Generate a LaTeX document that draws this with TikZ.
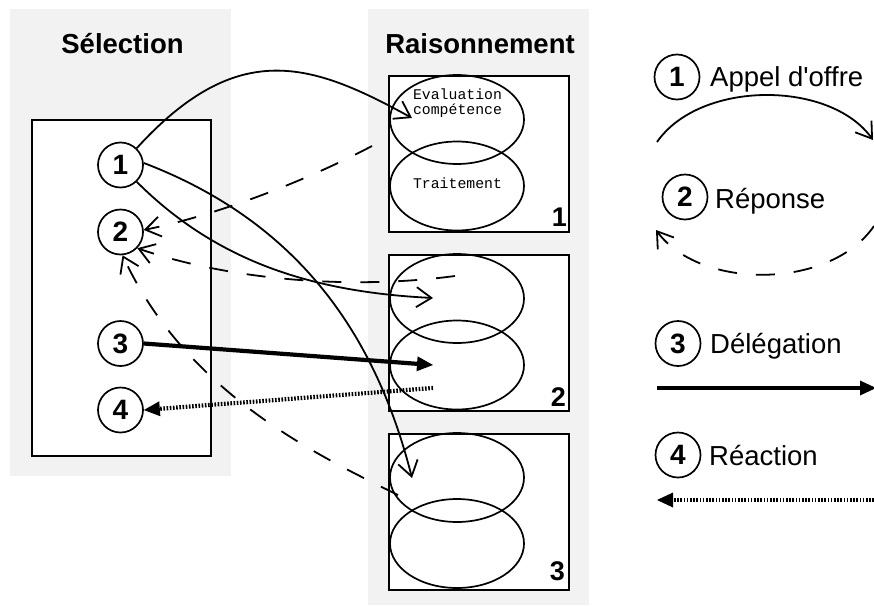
\documentclass[tikz,border=0pt]{standalone}
\usepackage{fontspec}
\setmainfont{Liberation Sans}
\newfontfamily\monofont{Liberation Mono}
\usetikzlibrary{arrows.meta,shapes.geometric}
\definecolor{panelgray}{RGB}{242,242,242}
\begin{document}
\begin{tikzpicture}[x=1pt,y=-1pt,
  box/.style={draw, line width=2pt, fill=white, inner sep=0pt, anchor=north west},
  lobe/.style={draw, ellipse, line width=1.7pt, minimum width=134pt, minimum height=89pt, inner sep=0pt},
  num/.style={circle, draw, line width=1.7pt, minimum size=45pt, inner sep=0pt, fill=white, font=\fontsize{28}{28}\selectfont\bfseries},
  title/.style={font=\fontsize{27.5}{30}\selectfont\bfseries, anchor=base, inner sep=0pt},
  legtext/.style={font=\fontsize{27.5}{30}\selectfont, anchor=base west, inner sep=0pt},
  boxnum/.style={font=\fontsize{27}{27}\selectfont\bfseries, anchor=base east, inner sep=0pt},
  mono/.style={font=\monofont\fontsize{14.8}{17}\selectfont, inner sep=0pt},
  call/.style={line width=1.8pt, -{Straight Barb[length=15pt,width=20pt]}},
  reply/.style={line width=1.8pt, dash pattern=on 19pt off 19pt, -{Straight Barb[length=15pt,width=20pt]}},
  deleg/.style={line width=4.2pt, -{Triangle[length=16pt,width=15pt,line width=0pt]}},
  react/.style={line width=4.2pt, dash pattern=on 1.6pt off 1.6pt, -{Triangle[length=16pt,width=15pt,line width=0pt]}},
]
\useasboundingbox (0,0) rectangle (874,605);
% panels
\fill[panelgray] (10,9) rectangle (231,476);
\fill[panelgray] (368,9) rectangle (589,605);
\node[title] (tsel) at (122.5,53) {Sélection};
\node[title] (trai) at (480,53) {Raisonnement};
% selection box
\node[box, minimum width=179pt, minimum height=336pt] (sel) at (31,119) {};
% reasoning boxes
\node[box, minimum width=180pt, minimum height=156pt] (b1) at (388,75) {};
\node[box, minimum width=180pt, minimum height=156pt] (b2) at (388,254) {};
\node[box, minimum width=180pt, minimum height=156pt] (b3) at (388,433) {};
\node[lobe] (e1a) at (457,119.5) {};
\node[lobe] (e1b) at (457,186) {};
\node[lobe] (e2a) at (457,298.5) {};
\node[lobe] (e2b) at (457,365) {};
\node[lobe] (e3a) at (457,477.5) {};
\node[lobe] (e3b) at (457,543.5) {};
\node[mono] (tev) at (457.5,94) {Evaluation};
\node[mono] (tco) at (457.5,111) {compétence};
\node[mono] (ttr) at (457.5,183) {Traitement};
\node[boxnum] (n1) at (567,226) {1};
\node[boxnum] (n2) at (566,406) {2};
\node[boxnum] (n3) at (565,580) {3};
% selection circles
\node[num] (c1) at (120.5,165) {1};
\node[num] (c2) at (120.5,232) {2};
\node[num] (c3) at (120.5,343.5) {3};
\node[num] (c4) at (120.5,410) {4};
% connectors
\coordinate (evalin) at (412,118);
\draw[call] (c1.46) .. controls (238,37) and (312,63) .. (evalin);
\coordinate (b3in) at (412,478);
\draw[call] (c1.5) .. controls (293,220) and (374,328) .. (b3in);
\coordinate (b2in) at (433,298);
\draw[call] (c1.-46) .. controls (217,262) and (313,292) .. (b2in);
\coordinate (r1) at (372,146);
\draw[reply] (r1) .. controls (302,183) and (213,216) .. (c2.5);
\coordinate (r2) at (455,276);
\draw[reply] (r2) .. controls (350,290) and (230,280) .. (c2.-44);
\coordinate (r3) at (398,495);
\draw[reply] (r3) .. controls (310,452) and (185,390) .. (c2.-85);
\coordinate (d2) at (433,365);
\draw[deleg] (c3.east) -- (d2);
\coordinate (re2) at (433,388);
\draw[react] (re2) -- (c4.east);
% legend
\node[num] (l1) at (677,77) {1};
\node[legtext] (lt1) at (710,86) {Appel d\textquotesingle offre};
\node[num] (l2) at (685,197) {2};
\node[legtext] (lt2) at (715,208) {Réponse};
\node[num] (l3) at (678,343.5) {3};
\node[legtext] (lt3) at (710,353) {Délégation};
\node[num] (l4) at (678,455) {4};
\node[legtext] (lt4) at (709,465) {Réaction};
\coordinate (la0) at (657,142); \coordinate (la1) at (873,140);
\draw[call] (la0) .. controls (700,80) and (830,80) .. (la1);
\coordinate (lb0) at (874,226); \coordinate (lb1) at (656,230);
\draw[reply] (lb0) .. controls (830,290) and (700,290) .. (lb1);
\coordinate (lc0) at (657,388); \coordinate (lc1) at (876,388);
\draw[deleg] (lc0) -- (lc1);
\coordinate (ld0) at (874,500); \coordinate (ld1) at (657,500);
\draw[react] (ld0) -- (ld1);
\end{tikzpicture}
\end{document}
